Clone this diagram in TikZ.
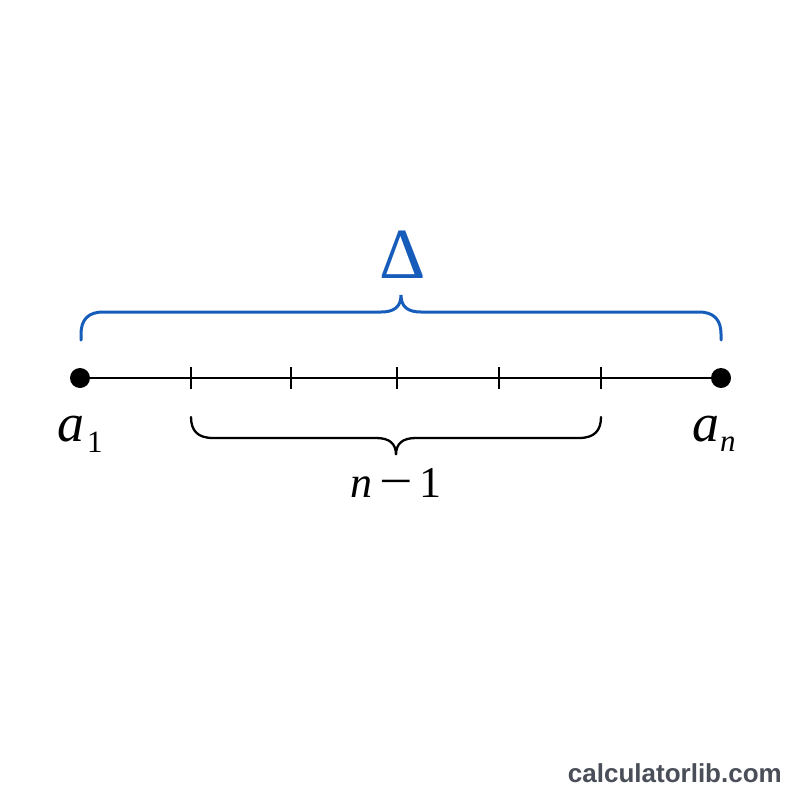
\documentclass[tikz,border=0pt]{standalone}
\usepackage{fontspec}
\usepackage{graphicx}
\setmainfont{Liberation Serif}
\newfontfamily\sitesans{Liberation Sans}
\definecolor{braceblue}{RGB}{22,92,186}
\definecolor{sitegray}{RGB}{74,78,88}
\begin{document}
\begin{tikzpicture}[x=1pt,y=-1pt,
  endpt/.style={circle,fill=black,inner sep=0pt,minimum size=20pt},
  axis/.style={line width=2.3pt,black},
  tickmark/.style={line width=2.3pt,black},
  bluebrace/.style={line width=3pt,braceblue,line cap=round},
  blackbrace/.style={line width=2.3pt,black,line cap=round},
  lbl/.style={inner sep=0pt,anchor=base west}]
\useasboundingbox (0,0) rectangle (800,800);
\fill[white] (0,0) rectangle (800,800);
% end points
\node[endpt] (A) at (80,378) {};
\node[endpt] (B) at (721,378) {};
\draw[axis] (A.center) -- (B.center);
% tick marks
\foreach \x [count=\i] in {191,291,397,499,601}{
  \coordinate (t\i) at (\x,378);
  \draw[tickmark] ([yshift=-11pt]t\i) -- ([yshift=11pt]t\i);
}
% blue brace
\coordinate (bl) at (81,340);
\coordinate (br) at (721,340);
\coordinate (btip) at (401,295);
\draw[bluebrace] (bl) -- (81,334) .. controls (81,320) and (88,312) .. (103,312)
  -- (381,312) .. controls (394,312) and (401,307) .. (btip)
  .. controls (401,307) and (408,312) .. (421,312)
  -- (699,312) .. controls (714,312) and (721,320) .. (721,334) -- (br);
% black brace
\coordinate (kl) at (191,417);
\coordinate (kr) at (601,417);
\coordinate (ktip) at (396,455);
\draw[blackbrace] (kl) .. controls (191,431) and (198,438) .. (213,438)
  -- (376,438) .. controls (389,438) and (396,443) .. (ktip)
  .. controls (396,443) and (403,438) .. (416,438)
  -- (579,438) .. controls (594,438) and (601,431) .. (kr);
% labels
\node[inner sep=0pt,anchor=base,text=braceblue] (delta) at (403,278)
  {\fontsize{72}{72}\selectfont Δ};
\node[lbl] (a1) at (57,441)
  {\fontsize{54}{54}\selectfont\itshape a\hspace{3pt}\raisebox{-11pt}{\fontsize{31}{31}\selectfont\upshape 1}};
\node[lbl] (an) at (692,441)
  {\fontsize{54}{54}\selectfont\itshape a\hspace{1pt}\raisebox{-10pt}{\fontsize{31}{31}\selectfont n}};
\node[lbl] (nm1) at (350,497)
  {\fontsize{44}{44}\selectfont\itshape n\hspace{7pt}\upshape\scalebox{1.35}[1.1]{−}\hspace{7pt}1};
\node[inner sep=0pt,anchor=base east,text=sitegray] (site) at (782,782)
  {\sitesans\bfseries\fontsize{26}{26}\selectfont calculatorlib.com};
\end{tikzpicture}
\end{document}
